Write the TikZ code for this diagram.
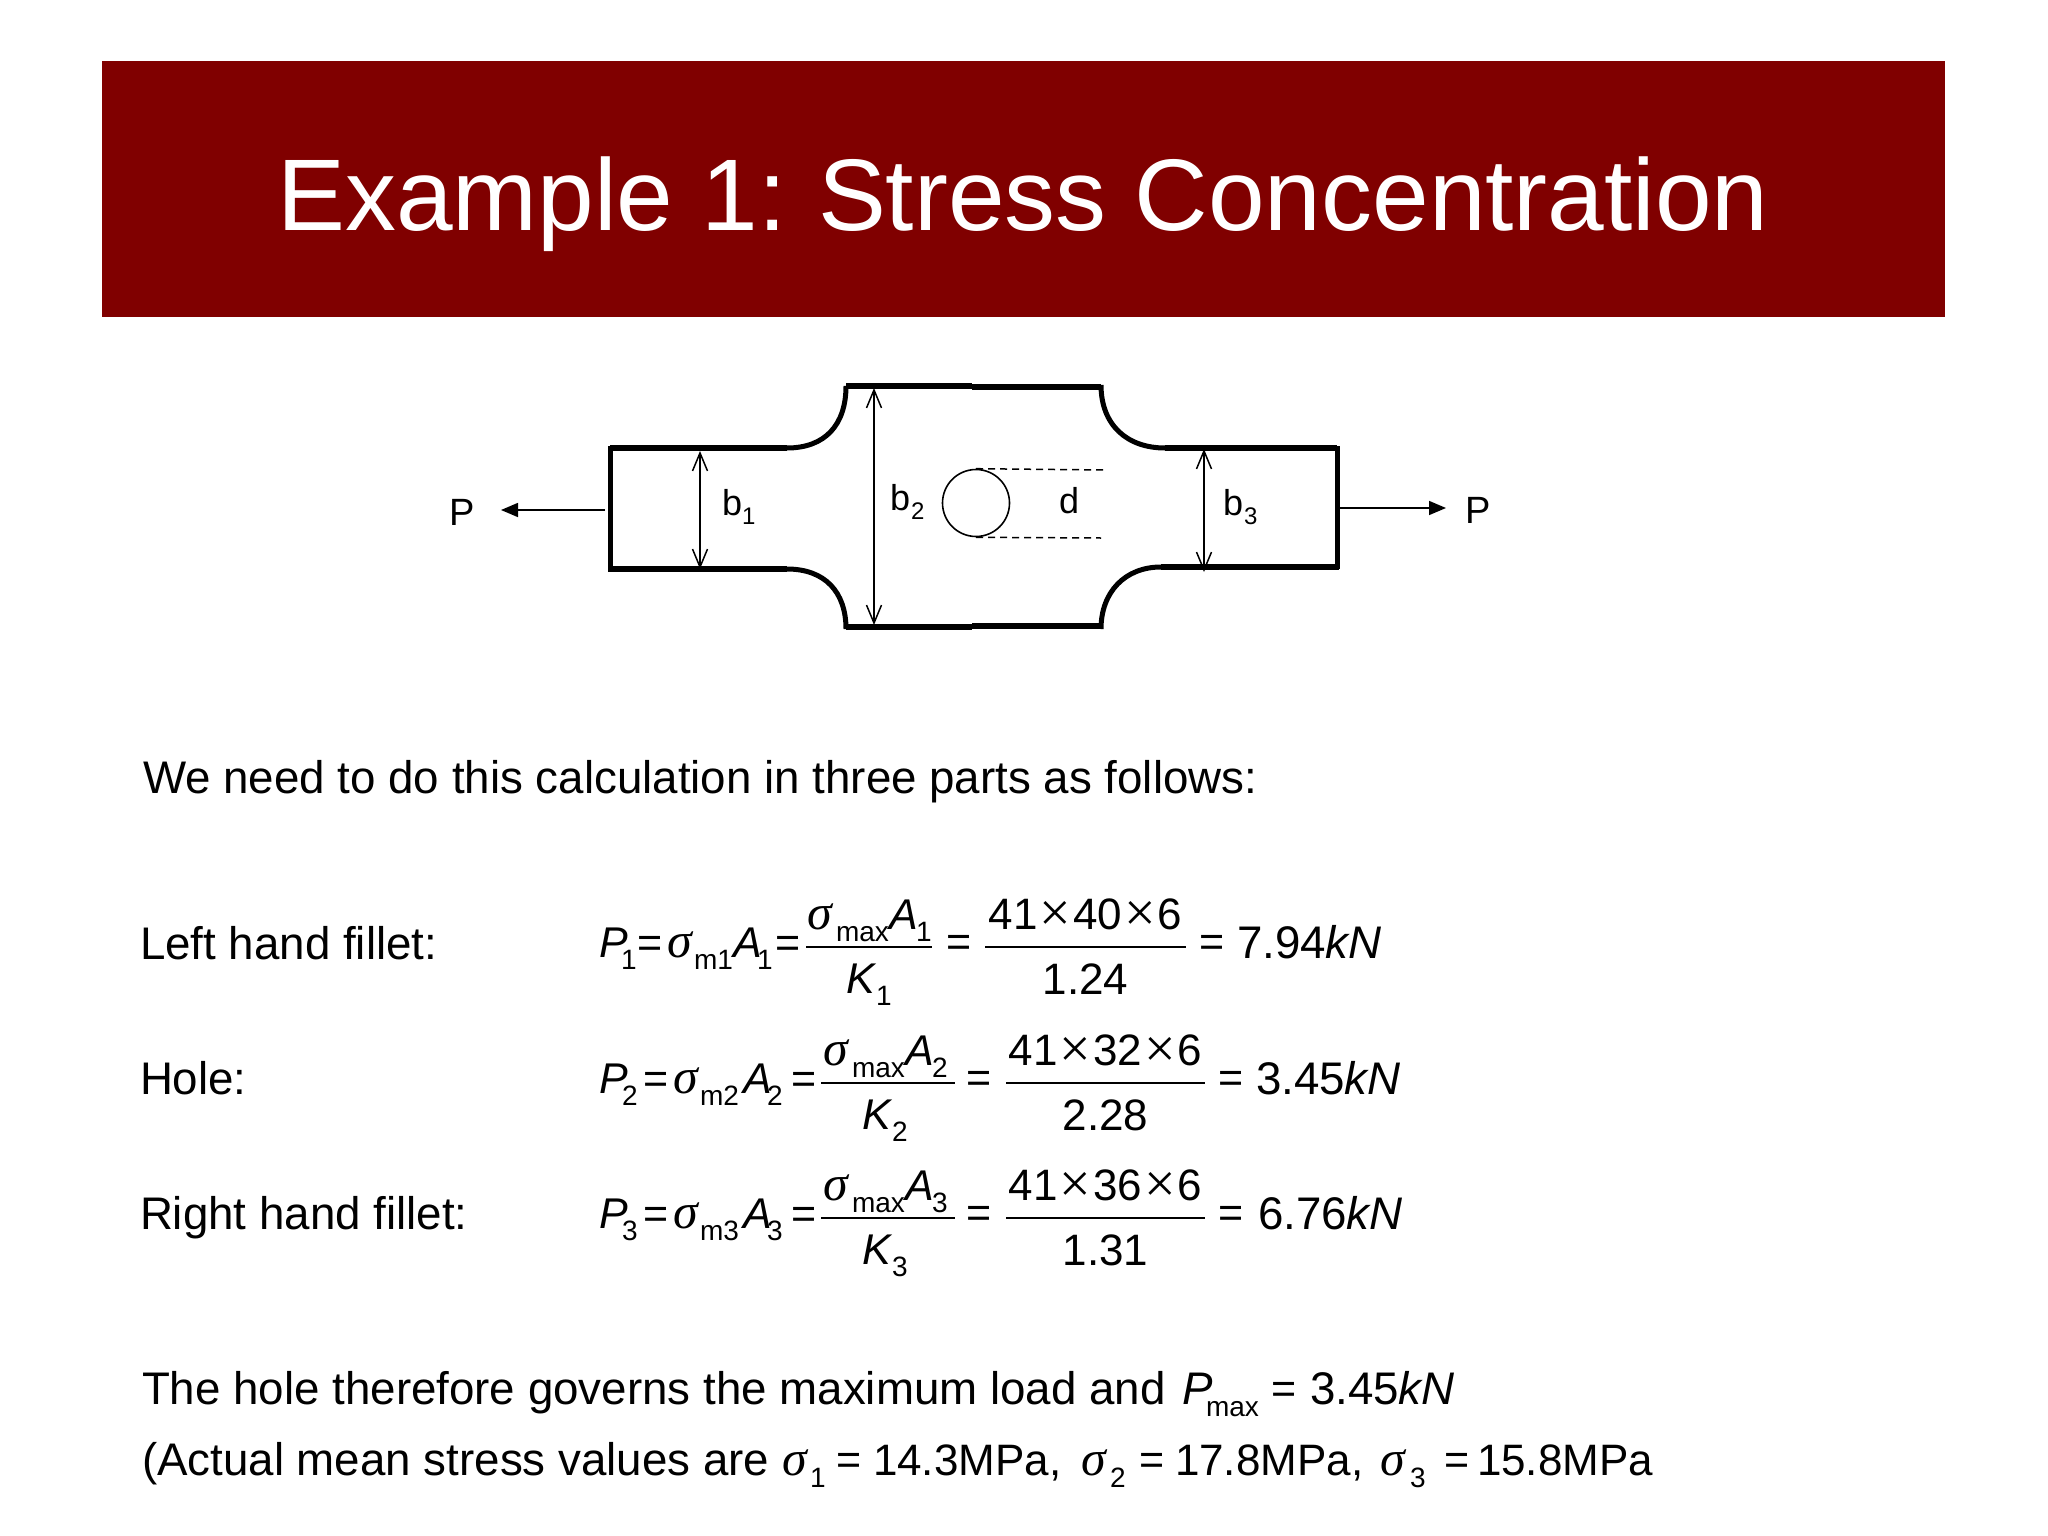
\documentclass[tikz,border=0pt]{standalone}
\usepackage{fontspec}
\setmainfont{Liberation Sans}
\newfontfamily\sigserif{Liberation Serif}
\usetikzlibrary{arrows.meta}
\definecolor{banner}{HTML}{800000}
\newcommand{\fs}[1]{\fontsize{#1}{#1}\selectfont}
\newcommand{\sgm}{{\sigserif\itshape σ}}
\newcommand{\tms}{\hspace{2pt}\raisebox{-2pt}{\sigserif\fs{56}×}\hspace{2pt}}
\tikzset{
  x=1pt,y=-1pt,
  txt/.style={anchor=base west,inner sep=0pt,outer sep=0pt,font=\fs{43}},
  body/.style={anchor=base west,inner sep=0pt,outer sep=0pt,font=\fs{45.7}},
  ctr/.style={anchor=base,inner sep=0pt,outer sep=0pt,font=\fs{44}},
  sub/.style={anchor=base west,inner sep=0pt,outer sep=0pt,font=\fs{28}},
  sig/.style={anchor=base west,inner sep=0pt,outer sep=0pt,font=\fs{50}},
  heavy/.style={line width=6pt,line cap=butt},
  edge/.style={line width=5pt,line join=miter},
  dim/.style={line width=1.5pt,{Straight Barb[length=18pt,width=15pt,line width=1.5pt]}-{Straight Barb[length=18pt,width=15pt,line width=1.5pt]}},
  load/.style={line width=1.6pt,-{Triangle[length=17pt,width=14pt]}},
  guide/.style={line width=1.5pt,dash pattern=on 7pt off 5pt},
  bar/.style={line width=1.8pt},
  lab/.style={anchor=base west,inner sep=0pt,font=\fs{36}},
  labs/.style={anchor=base west,inner sep=0pt,font=\fs{24}},
  pl/.style={anchor=base west,inner sep=0pt,font=\fs{38}},
}
\newcommand{\eqhead}[7]{%
  \node[txt] (p#1) at (599,#2) {\itshape P};
  \node[sub] (ps#1) at (#3,#2+12) {#1};
  \node[txt] (ea#1) at (#4,#2) {=};
  \node[sig] (sm#1) at (#5,#2) {\sgm};
  \node[sub] (m#1) at (#5+27,#2+12) {m#1};
  \node[txt] (a#1) at (#6,#2) {\itshape A};
  \node[sub] (as#1) at (#6+24,#2+12) {#1};
  \node[txt] (eb#1) at (#7,#2) {=};
}
\newcommand{\eqfrac}[5]{%
  \coordinate (fl#1) at (#3,#2-10);
  \coordinate (fr#1) at (#4,#2-10);
  \draw[bar] (fl#1) -- (fr#1);
  \node[sig] (ns#1) at (#5-1,#2-28) {\sgm};
  \node[sub] (nm#1) at (#5+28,#2-16) {max};
  \node[txt] (na#1) at (#5+81,#2-28) {\itshape A};
  \node[sub] (nb#1) at (#5+108,#2-16) {#1};
  \node[txt] (k#1) at (#5+38,#2+36) {\itshape K};
  \node[sub] (ks#1) at (#5+68,#2+48) {#1};
}
\newcommand{\eqrest}[7]{%
  \node[txt] (ec#1) at (#3,#2-1) {=};
  \coordinate (gl#1) at (#4,#2-10);
  \coordinate (gr#1) at (#5,#2-10);
  \draw[bar] (gl#1) -- (gr#1);
  \node[ctr] (num#1) at ({(#4+#5)/2},#2-28) {41\tms#6\tms6};
  \node[ctr] (den#1) at ({(#4+#5)/2},#2+37) {#7};
  \node[txt] (ed#1) at (#5+13,#2-1) {=};
}
\begin{document}
\begin{tikzpicture}
\useasboundingbox (0,0) rectangle (2048,1536);
\fill[white] (0,0) rectangle (2048,1536);
\fill[banner] (102,61) rectangle (1945,317);
\node[anchor=base west,inner sep=0pt,text=white,font=\fs{101.8}] (title) at (277,230) {Example 1:\hspace{-6pt} Stress Concentration};
% plate
\draw[edge] (610,446) -- (610,571);
\draw[edge] (1337,446) -- (1337,569);
\draw[heavy] (610,448) -- (787,448);
\draw[heavy] (1165,448) -- (1337,448);
\draw[heavy] (608,569) -- (787,569);
\draw[heavy] (1161,567) -- (1339,567);
\draw[heavy] (846,386) -- (972,386);
\draw[heavy] (972,387) -- (1101,387);
\draw[heavy] (846,627) -- (972,627);
\draw[heavy] (972,626) -- (1101,626);
\draw[edge] (787,448) .. controls (825,448) and (846,425) .. (846,386);
\draw[edge] (1101,385) .. controls (1101,425) and (1127,448) .. (1165,448);
\draw[edge] (787,569) .. controls (825,569) and (846,592) .. (846,629);
\draw[edge] (1101,629) .. controls (1101,592) and (1125,567) .. (1161,567);
% hole
\node[draw,circle,line width=1.6pt,minimum size=67pt,inner sep=0pt] (hole) at (976,503) {};
\coordinate (gt) at (1104,470);
\coordinate (gb) at (1101,538);
\draw[guide] (hole.north) -- (gt);
\draw[guide] (hole.south) -- (gb);
% dimensions
\coordinate (b1t) at (700,451); \coordinate (b1b) at (700,569);
\coordinate (b2t) at (874,388); \coordinate (b2b) at (874,625);
\coordinate (b3t) at (1204,449); \coordinate (b3b) at (1204,572);
\draw[dim] (b1t) -- (b1b);
\draw[dim] (b2t) -- (b2b);
\draw[dim] (b3t) -- (b3b);
\node[lab] (l1) at (722,515) {b};
\node[labs] (l1s) at (742,524) {1};
\node[lab] (l2) at (890,510) {b};
\node[labs] (l2s) at (911,519) {2};
\node[lab] (l3) at (1223,515) {b};
\node[labs] (l3s) at (1244,524) {3};
\node[lab] (ld) at (1059,513) {d};
% loads
\node[pl] (pleft) at (449,525) {P};
\node[pl] (pright) at (1465,523) {P};
\coordinate (l0) at (605,510); \coordinate (l1e) at (501,510);
\coordinate (r0) at (1340,508); \coordinate (r1e) at (1446,508);
\draw[load] (l0) -- (l1e);
\draw[load] (r0) -- (r1e);
% text
\node[body] (intro) at (143,793) {We need to do this calculation in three parts as follows:};
\node[body] (t1) at (140,959) {Left hand fillet:};
\node[body] (t2) at (140,1094) {Hole:};
\node[body] (t3) at (140,1229) {Right hand fillet:};
% equations
\eqhead{1}{957}{621}{637}{667}{733}{775}
\eqfrac{1}{957}{806}{932}{808}
\eqrest{1}{957}{946}{985}{1186}{40}{1.24}
\node[body] (r1) at (1237,958) {7.94\itshape kN};
\eqhead{2}{1093}{622}{643}{673}{743}{791}
\eqfrac{2}{1093}{821}{955}{824}
\eqrest{2}{1093}{966}{1006}{1205}{32}{2.28}
\node[body] (r2) at (1256,1094) {3.45\itshape kN};
\eqhead{3}{1228}{622}{643}{673}{743}{791}
\eqfrac{3}{1228}{821}{955}{824}
\eqrest{3}{1228}{966}{1006}{1205}{36}{1.31}
\node[body] (r3) at (1258,1229) {6.76\itshape kN};
% conclusion
\node[body] (c1) at (142,1404) {The hole therefore governs the maximum load and};
\node[body] (c1p) at (1182,1404) {\itshape P};
\node[sub] (c1m) at (1206,1416) {max};
\node[txt] (c1e) at (1271,1403) {=};
\node[body] (c1v) at (1310,1404) {3.45\itshape kN};
\node[body] (c2) at (142,1475) {(Actual mean stress values are};
\node[sig] (s1) at (782,1475) {\sgm};
\node[sub] (s1s) at (810,1487) {1};
\node[txt] (e1) at (836,1474) {=};
\node[txt,font=\fs{44}] (v1) at (873,1475) {14.3MPa,};
\node[sig] (s2) at (1081,1475) {\sgm};
\node[sub] (s2s) at (1110,1487) {2};
\node[txt] (e2) at (1139,1474) {=};
\node[txt,font=\fs{44}] (v2) at (1175,1475) {17.8MPa,};
\node[sig] (s3) at (1380,1475) {\sgm};
\node[sub] (s3s) at (1410,1487) {3};
\node[txt] (e3) at (1444,1474) {=};
\node[txt,font=\fs{44}] (v3) at (1477,1475) {15.8MPa};
\end{tikzpicture}
\end{document}
